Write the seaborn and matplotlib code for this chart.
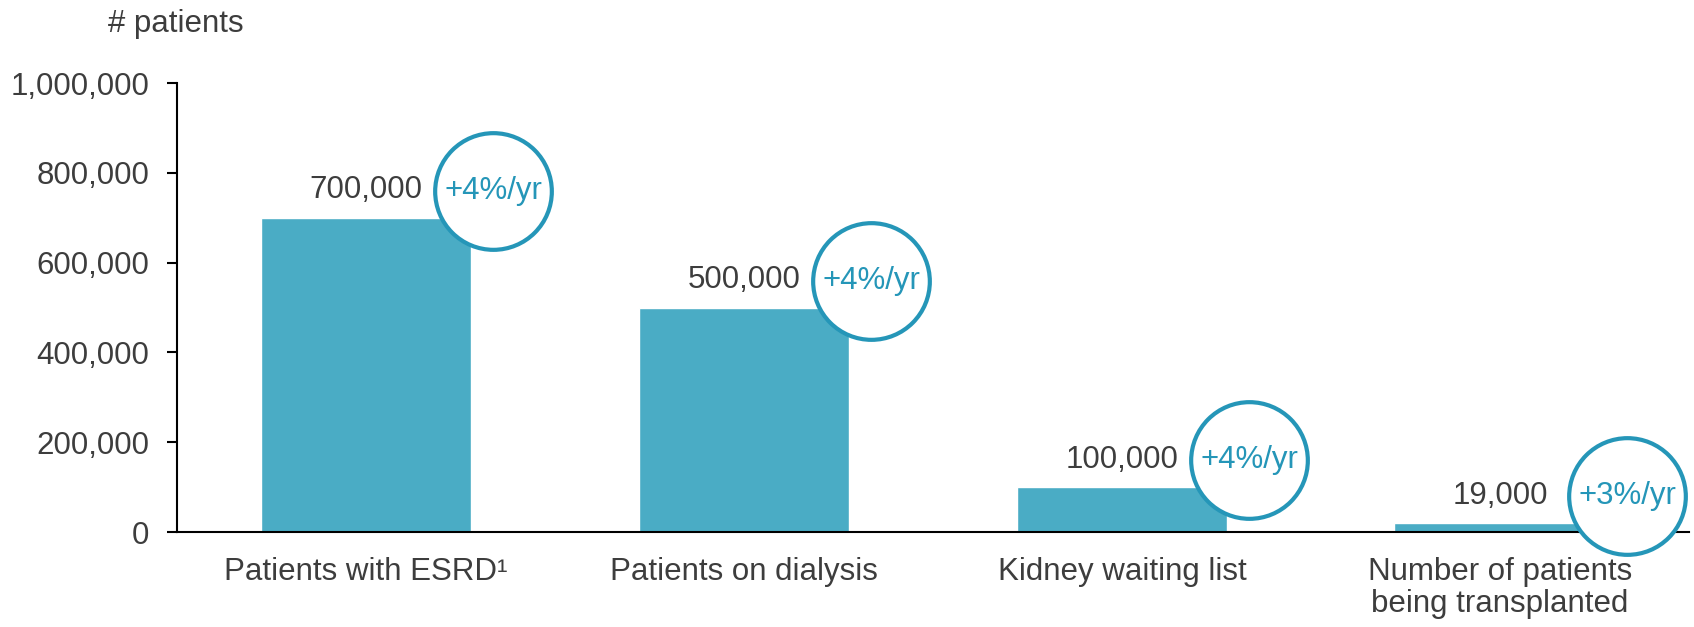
import matplotlib
matplotlib.use("Agg")
import matplotlib.pyplot as plt
import seaborn as sns
from matplotlib.transforms import offset_copy
from matplotlib.ticker import FuncFormatter

# ================== data ==================
categories = ["Patients with ESRD¹", "Patients on dialysis", "Kidney waiting list",
              "Number of patients\nbeing transplanted"]
patients = [700000, 500000, 100000, 19000]
growth = ["+4%/yr", "+4%/yr", "+4%/yr", "+3%/yr"]
y_ticks = [0, 200000, 400000, 600000, 800000, 1000000]

bar_color = "#4aacc5"
ring_color = "#2596b8"
text_color = "#3d3d3d"

sns.set_style("white")
plt.rcParams["font.family"] = ["Liberation Sans", "DejaVu Sans"]

fig = plt.figure(figsize=(16.94, 6.27), dpi=100)
ax = fig.add_axes([0.1045, 0.1515, 0.8925, 0.7161])

bar_w = 0.558
sns.barplot(x=categories, y=patients, color=bar_color, saturation=1,
            width=bar_w, ax=ax)

ax.set_xlim(-0.5, 3.5)
ax.set_ylim(0, 1000000)
ax.set_yticks(y_ticks)
ax.yaxis.set_major_formatter(FuncFormatter(lambda v, p: f"{int(v):,}"))
ax.set_xlabel("")
ax.set_ylabel("")

sns.despine(ax=ax)
for s in ["left", "bottom"]:
    ax.spines[s].set_color("black")
    ax.spines[s].set_linewidth(1.5)
ax.tick_params(axis="y", length=7, width=1.5, color="black", pad=13,
               labelsize=22.5, labelcolor=text_color, direction="out", left=True)
ax.tick_params(axis="x", length=0, pad=18, labelsize=22.5, labelcolor=text_color)
for lbl in ax.get_xticklabels():
    lbl.set_linespacing(1.1)

# value labels above bars
for i, v in enumerate(patients):
    ax.annotate(f"{v:,}", xy=(i, v), xytext=(0, 9), textcoords="offset points",
                ha="center", va="bottom", fontsize=22.5, color=text_color)

# growth circles
tr = offset_copy(ax.transData, fig=fig, x=22, y=27, units="dots")
for i, (v, g) in enumerate(zip(patients, growth)):
    ax.scatter([i + bar_w / 2], [v], s=84 ** 2, facecolor="white",
               edgecolor=ring_color, linewidth=3, transform=tr,
               zorder=5, clip_on=False)
    ax.text(i + bar_w / 2, v, g, transform=tr, ha="center", va="center",
            fontsize=22.5, color=ring_color, zorder=6)

fig.text(108 / 1694, 1 - 32 / 627, "# patients", fontsize=22.5,
         color=text_color, ha="left", va="baseline")

fig.savefig("out.png", dpi=100)
